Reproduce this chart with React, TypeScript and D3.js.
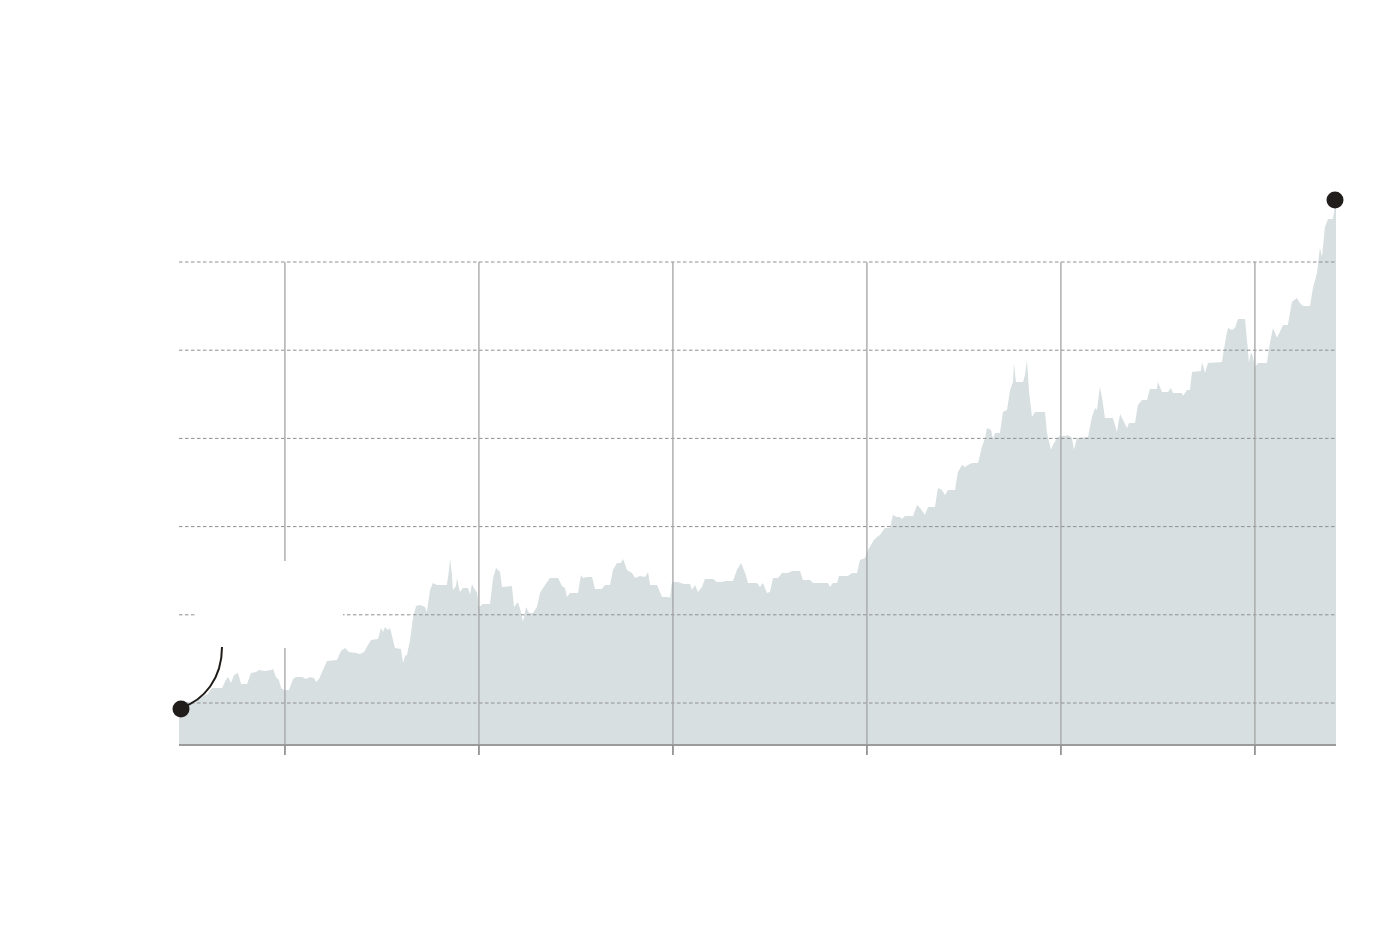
import React from "react";
import * as d3 from "d3";

// Decimal-year dates of sampled observations
const dates: number[] = [
  2018.454, 2018.475, 2018.511, 2018.536, 2018.562, 2018.603, 2018.624, 2018.676, 2018.696, 2018.707,
  2018.722, 2018.738, 2018.758, 2018.774, 2018.805, 2018.825, 2018.851, 2018.866, 2018.897, 2018.928,
  2018.939, 2018.954, 2018.969, 2018.98, 2018.995, 2019.021, 2019.042, 2019.057, 2019.088, 2019.109,
  2019.129, 2019.15, 2019.16, 2019.176, 2019.196, 2019.217, 2019.268, 2019.289, 2019.31, 2019.33,
  2019.366, 2019.387, 2019.408, 2019.428, 2019.444, 2019.48, 2019.495, 2019.506, 2019.516, 2019.531,
  2019.542, 2019.557, 2019.567, 2019.598, 2019.609, 2019.619, 2019.629, 2019.645, 2019.66, 2019.676,
  2019.696, 2019.722, 2019.732, 2019.748, 2019.763, 2019.784, 2019.835, 2019.846, 2019.851, 2019.861,
  2019.866, 2019.882, 2019.887, 2019.897, 2019.902, 2019.918, 2019.944, 2019.954, 2019.964, 2019.98,
  2019.99, 2020.0, 2020.021, 2020.057, 2020.073, 2020.088, 2020.109, 2020.119, 2020.17, 2020.181,
  2020.201, 2020.217, 2020.227, 2020.243, 2020.258, 2020.279, 2020.299, 2020.315, 2020.341, 2020.366,
  2020.408, 2020.428, 2020.444, 2020.454, 2020.469, 2020.511, 2020.526, 2020.536, 2020.557, 2020.583,
  2020.598, 2020.634, 2020.65, 2020.676, 2020.691, 2020.712, 2020.732, 2020.743, 2020.763, 2020.789,
  2020.805, 2020.83, 2020.856, 2020.872, 2020.882, 2020.918, 2020.944, 2020.975, 2020.985, 2020.995,
  2021.026, 2021.057, 2021.088, 2021.098, 2021.114, 2021.129, 2021.15, 2021.165, 2021.207, 2021.227,
  2021.253, 2021.268, 2021.31, 2021.33, 2021.351, 2021.372, 2021.387, 2021.433, 2021.449, 2021.464,
  2021.485, 2021.5, 2021.516, 2021.542, 2021.562, 2021.593, 2021.614, 2021.655, 2021.67, 2021.707,
  2021.722, 2021.799, 2021.81, 2021.825, 2021.846, 2021.856, 2021.902, 2021.923, 2021.949, 2021.964,
  2021.99, 2022.006, 2022.021, 2022.036, 2022.052, 2022.067, 2022.093, 2022.119, 2022.134, 2022.155,
  2022.17, 2022.181, 2022.196, 2022.238, 2022.258, 2022.274, 2022.289, 2022.299, 2022.315, 2022.351,
  2022.366, 2022.387, 2022.402, 2022.418, 2022.454, 2022.469, 2022.49, 2022.506, 2022.521, 2022.542,
  2022.573, 2022.593, 2022.609, 2022.619, 2022.64, 2022.65, 2022.66, 2022.686, 2022.701, 2022.722,
  2022.738, 2022.753, 2022.758, 2022.768, 2022.805, 2022.815, 2022.825, 2022.835, 2022.851, 2022.866,
  2022.918, 2022.928, 2022.949, 2022.959, 2022.98, 2022.995, 2023.021, 2023.036, 2023.057, 2023.067,
  2023.083, 2023.14, 2023.16, 2023.176, 2023.186, 2023.201, 2023.212, 2023.227, 2023.268, 2023.289,
  2023.305, 2023.32, 2023.341, 2023.351, 2023.382, 2023.397, 2023.418, 2023.444, 2023.459, 2023.495,
  2023.5, 2023.521, 2023.552, 2023.567, 2023.578, 2023.624, 2023.629, 2023.65, 2023.665, 2023.676,
  2023.722, 2023.727, 2023.743, 2023.758, 2023.83, 2023.851, 2023.861, 2023.882, 2023.897, 2023.913,
  2023.949, 2023.964, 2023.969, 2023.98, 2023.99, 2024.0, 2024.016, 2024.062, 2024.073, 2024.093,
  2024.114, 2024.129, 2024.145, 2024.17, 2024.191, 2024.217, 2024.232, 2024.248, 2024.284, 2024.299,
  2024.32, 2024.335, 2024.346, 2024.361, 2024.377, 2024.402, 2024.418,
];

// Values at those dates
const values: number[] = [
  96.6, 100.0, 100.6, 101.7, 103.4, 105.1, 108.5, 108.5, 113.0, 114.7,
  111.3, 115.9, 117.0, 110.8, 110.8, 117.0, 117.6, 118.7, 118.1, 118.7,
  119.3, 114.7, 113.0, 108.5, 107.4, 107.4, 113.6, 114.7, 114.7, 113.6,
  114.7, 114.2, 111.9, 113.6, 118.7, 123.8, 124.4, 129.5, 131.2, 128.9,
  128.4, 127.8, 128.9, 132.9, 135.7, 136.3, 142.5, 140.3, 143.1, 141.4,
  142.5, 135.7, 131.2, 130.6, 122.7, 126.6, 127.2, 135.7, 148.2, 155.0,
  155.6, 154.4, 151.6, 164.1, 168.0, 166.9, 166.9, 175.4, 182.2, 172.6,
  164.1, 166.3, 170.9, 165.2, 162.9, 165.2, 165.2, 161.2, 167.5, 164.1,
  162.9, 154.4, 156.1, 156.1, 170.9, 176.5, 174.3, 165.8, 166.3, 154.4,
  157.3, 151.6, 145.9, 154.4, 151.0, 151.0, 154.4, 162.4, 166.9, 170.9,
  170.9, 166.3, 165.2, 160.1, 162.4, 162.4, 172.6, 170.9, 171.4, 171.4,
  164.6, 164.6, 166.9, 166.9, 175.4, 179.4, 179.4, 181.6, 175.4, 173.7,
  170.9, 172.0, 171.4, 174.3, 166.9, 166.9, 160.1, 160.1, 159.5, 168.6,
  168.6, 167.5, 167.5, 164.1, 166.9, 162.9, 165.8, 170.3, 170.3, 168.6,
  168.6, 169.2, 169.2, 175.4, 179.4, 173.7, 168.0, 168.0, 165.8, 168.0,
  162.4, 162.9, 170.9, 170.9, 173.7, 173.7, 174.8, 174.8, 169.7, 169.7,
  168.0, 168.0, 165.8, 168.0, 168.0, 172.0, 172.0, 173.7, 173.7, 181.1,
  182.2, 186.8, 189.6, 192.4, 194.1, 195.3, 199.2, 199.2, 206.6, 205.5,
  205.5, 204.3, 206.0, 206.0, 212.3, 210.6, 208.3, 206.6, 211.1, 211.1,
  221.9, 220.8, 217.9, 220.8, 220.8, 231.0, 234.9, 233.8, 234.9, 236.1,
  236.1, 245.2, 250.3, 255.9, 254.8, 249.7, 253.1, 253.1, 265.0, 266.1,
  277.5, 282.0, 292.8, 282.0, 282.0, 286.0, 294.5, 277.5, 262.2, 265.0,
  265.0, 253.1, 243.5, 246.3, 250.3, 251.4, 251.4, 252.0, 250.3, 243.5,
  250.3, 250.8, 262.2, 267.3, 266.1, 279.2, 272.9, 261.6, 261.6, 253.7,
  263.9, 260.5, 255.9, 258.8, 258.8, 269.0, 271.8, 271.8, 278.0, 278.0,
  282.0, 276.3, 276.3, 278.6, 275.8, 275.8, 274.1, 277.5, 277.5, 287.7,
  288.2, 293.3, 287.1, 292.8, 293.3, 307.5, 312.6, 311.5, 312.6, 317.7,
  317.7, 300.2, 292.8, 299.0, 296.2, 290.5, 292.8, 292.8, 301.3, 312.6,
  307.0, 310.4, 314.3, 314.3, 327.4, 329.6, 326.8, 325.1, 325.1, 335.3,
  343.8, 358.0, 352.9, 369.9, 374.4, 374.4, 385.2,
];

const yearTicks: number[] = [2019, 2020, 2021, 2022, 2023, 2024];
const gridValues: number[] = [100, 150, 200, 250, 300, 350];
const yDomain: number[] = [76.2, 350];

const W = 1400;
const H = 940;
const M = { left: 179, right: 1336, top: 262, bottom: 745 };

export default function App() {
  const data = dates.map((d, i) => ({ t: d, v: values[i] }));
  const x = d3
    .scaleLinear()
    .domain([dates[0], dates[dates.length - 1]])
    .range([M.left, M.right]);
  const y = d3.scaleLinear().domain(yDomain).range([M.bottom, M.top]);

  const area = d3
    .area<{ t: number; v: number }>()
    .x((d) => x(d.t))
    .y0(M.bottom)
    .y1((d) => y(d.v))
    .curve(d3.curveLinear);

  const first = data[0];
  const last = data[data.length - 1];
  const fx = x(first.t);
  const fy = y(first.v);
  const curvePath = d3.path();
  curvePath.moveTo(fx + 2, fy - 1);
  curvePath.bezierCurveTo(fx + 25, fy - 9, fx + 43, fy - 30, fx + 43, fy - 62);

  const gridColor = "#8f8f8f";

  return (
    <svg
      width={W}
      height={H}
      style={{ position: "absolute", left: 0, top: 0, background: "#fff" }}
    >
      <path d={area(data) || ""} fill="#d7dfe0" />
      {gridValues.map((g) => (
        <line
          key={"g" + g}
          x1={M.left}
          x2={M.right}
          y1={y(g)}
          y2={y(g)}
          stroke={gridColor}
          strokeWidth={1}
          strokeDasharray="3.5 2.5"
        />
      ))}
      {yearTicks.map((yr) => (
        <line
          key={"v" + yr}
          x1={x(yr)}
          x2={x(yr)}
          y1={y(gridValues[gridValues.length - 1])}
          y2={M.bottom + 10}
          stroke="#a3a3a3"
          strokeWidth={1.3}
        />
      ))}
      <line
        x1={M.left}
        x2={M.right}
        y1={M.bottom}
        y2={M.bottom}
        stroke="#9b9b9b"
        strokeWidth={2}
      />
      {yearTicks.map((yr) => (
        <line
          key={"t" + yr}
          x1={x(yr)}
          x2={x(yr)}
          y1={M.bottom}
          y2={M.bottom + 10}
          stroke="#8a8a8a"
          strokeWidth={1.3}
        />
      ))}
      <rect x={195} y={561} width={148} height={87} fill="#ffffff" />
      <path
        d={curvePath.toString()}
        fill="none"
        stroke="#1f1b18"
        strokeWidth={2}
      />
      <circle cx={fx + 2} cy={fy} r={8.5} fill="#211d1a" />
      <circle cx={x(last.t) - 1} cy={y(last.v)} r={8.5} fill="#211d1a" />
    </svg>
  );
}
